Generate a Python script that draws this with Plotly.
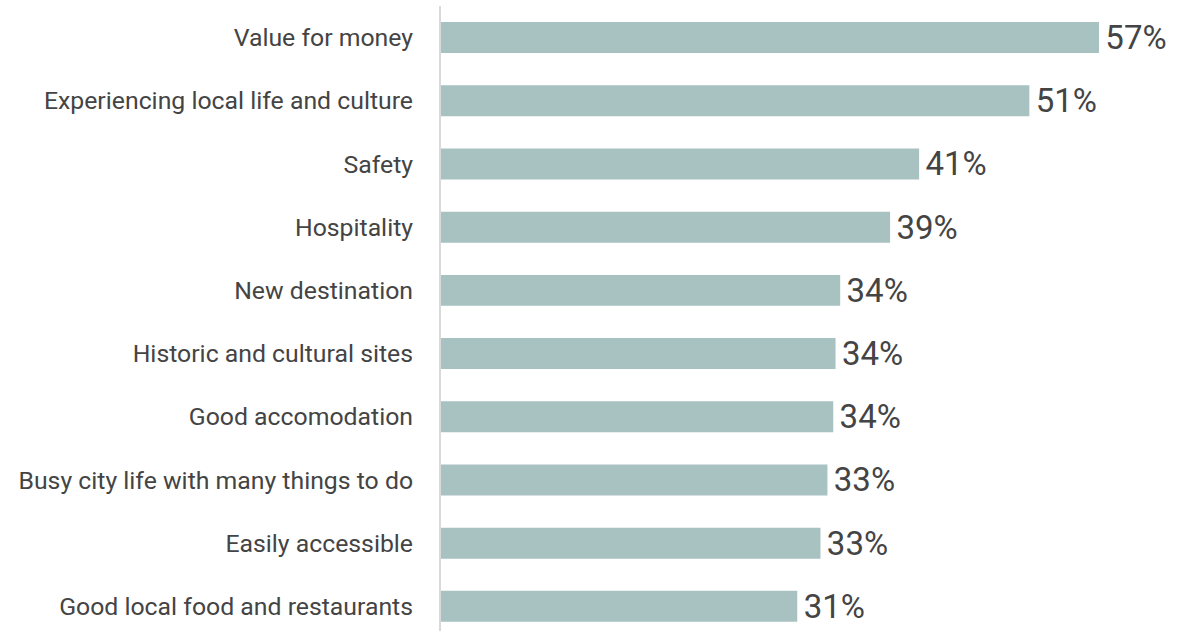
import plotly.graph_objects as go

# Share of respondents citing each factor (%)
factors = [
    "Value for money",
    "Experiencing local life and culture",
    "Safety",
    "Hospitality",
    "New destination",
    "Historic and cultural sites",
    "Good accomodation",
    "Busy city life with many things to do",
    "Easily accessible",
    "Good local food and restaurants",
]
shares = [56.7, 50.7, 41.2, 38.7, 34.4, 34.0, 33.8, 33.3, 32.7, 30.7]

BAR_COLOR = "#a7c2c0"
TEXT_COLOR = "#444444"
FONT = "Roboto"

fig = go.Figure(
    go.Bar(
        x=shares,
        y=factors,
        orientation="h",
        marker=dict(color=BAR_COLOR, line=dict(width=0)),
        width=0.49,
        text=["\u200a" + f"{v:.0f}%" for v in shares],
        textposition="outside",
        constraintext="none",
        textfont=dict(family=FONT, size=33, color=TEXT_COLOR),
        cliponaxis=False,
        hoverinfo="skip",
    )
)

fig.update_layout(
    width=1186,
    height=631,
    margin=dict(l=441, r=0, t=6, b=0),
    paper_bgcolor="white",
    plot_bgcolor="white",
    showlegend=False,
    font=dict(family=FONT, color=TEXT_COLOR),
)

fig.update_xaxes(
    range=[0, 64.2],
    visible=False,
    showgrid=False,
    zeroline=False,
)

fig.update_yaxes(
    range=[9.39, -0.5],
    showgrid=False,
    zeroline=False,
    showline=True,
    linecolor="#d9d9d9",
    linewidth=2,
    ticks="",
    ticklabelstandoff=21,
    tickfont=dict(family=FONT, size=24.8, color=TEXT_COLOR),
)

fig.write_html("out.html")
